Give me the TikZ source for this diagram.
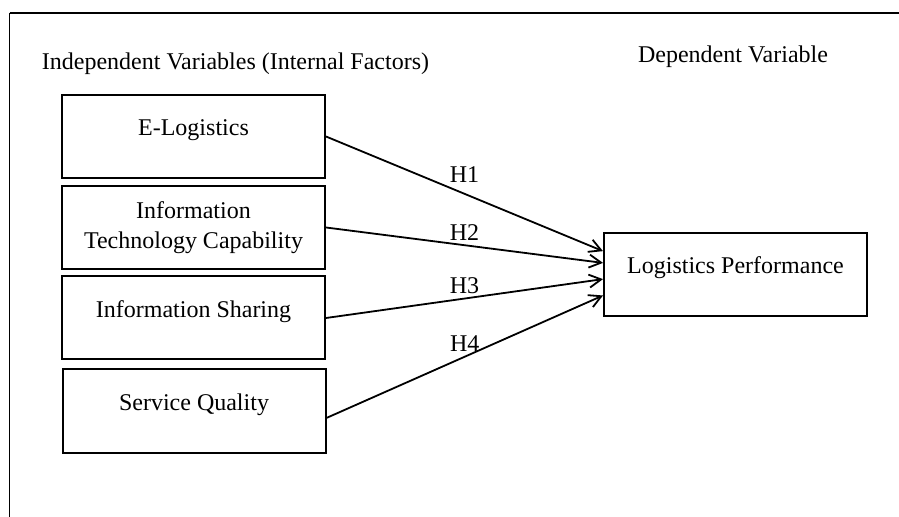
\documentclass[tikz,border=0pt]{standalone}
\usepackage{fontspec}
\setmainfont{Liberation Serif}
\usetikzlibrary{arrows.meta}

\begin{document}
\begin{tikzpicture}[x=5pt,y=-5pt,line width=0.9pt,
		every node/.style={font=\fontsize{12}{15}\selectfont},
		box/.style={draw,line width=1pt,minimum width=131.5pt,minimum height=41.5pt,align=center,inner sep=0pt},
		toptext/.style={text height=8pt,text depth=8.5pt},
		hyp/.style={-{Straight Barb[length=6pt,width=6.5pt]}}]
		
		\useasboundingbox (0,0) rectangle (89.9,51.7);
		
		% frame
		\draw[line width=1.3pt] (0.95,1.3) -- (89.9,1.3);
		\draw[line width=0.7pt] (0.95,1.3) -- (0.95,51.7);
		
		\node[anchor=base west,inner sep=0pt] (indep) at (4.1,7.0) {Independent Variables (Internal Factors)};
		\node[anchor=base,inner sep=0pt] (dep) at (73.3,6.3) {Dependent Variable};
		
		\node[box,toptext] (elog) at (19.35,13.65) {E-Logistics};
		\node[box] (itc) at (19.35,22.75) {Information\\Technology Capability};
		\node[box,toptext] (share) at (19.35,31.8) {Information Sharing};
		\node[box,toptext,minimum height=42pt] (serv) at (19.4,41.1) {Service Quality};
		\node[box,toptext] (perf) at (73.55,27.45) {Logistics Performance};
		
		\draw[hyp] (elog.east) -- (perf.170) node[midway,above=4pt,inner sep=1pt] (h1) {H1};
		\draw[hyp] (itc.east) -- (perf.175) node[midway,above=1pt,inner sep=1pt] (h2) {H2};
		\draw[hyp] (share.east) -- (perf.182) node[midway,above=1pt,inner sep=1pt] (h3) {H3};
		\draw[hyp] (serv.-3) -- (perf.189) node[midway,above=1pt,inner sep=1pt] (h4) {H4};
		
	\end{tikzpicture}
\end{document}
